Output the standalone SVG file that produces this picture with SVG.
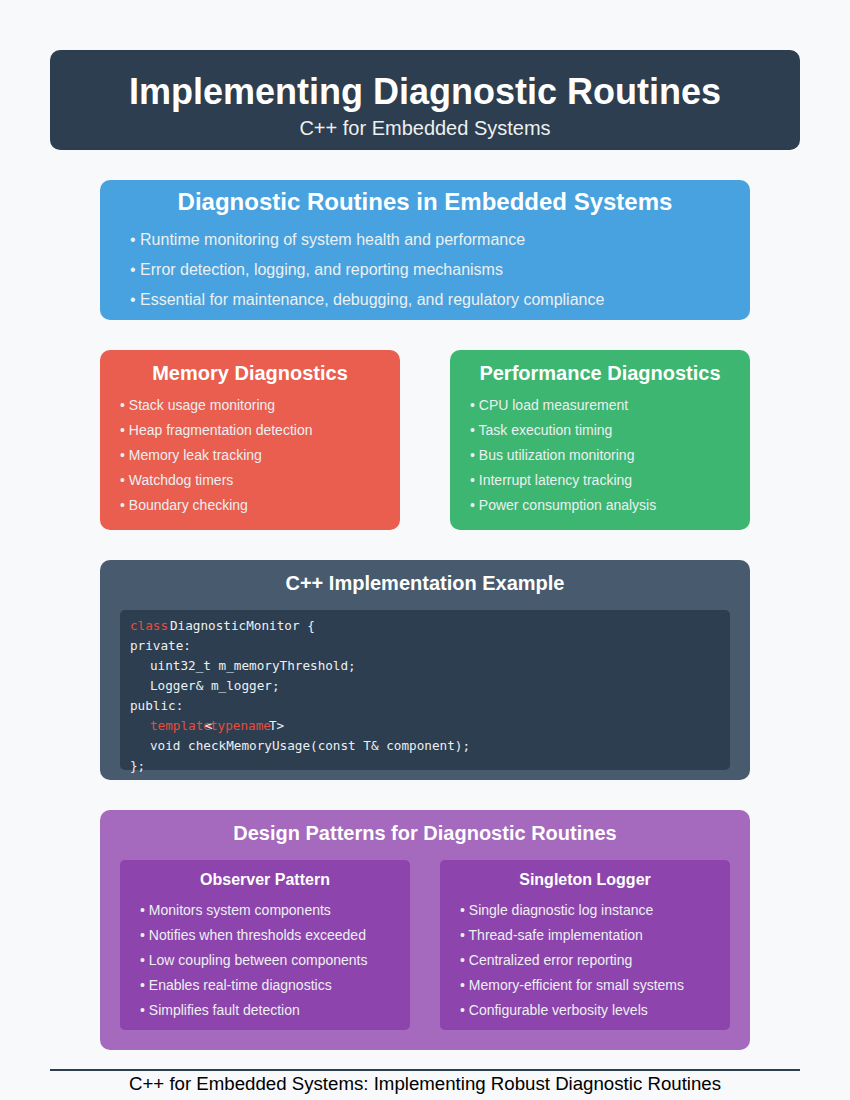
<svg xmlns="http://www.w3.org/2000/svg" width="850" height="1100" viewBox="0 0 850 1100">
<style>
text{font-family:"Liberation Sans",Arial,sans-serif;}
.t{fill:#ffffff;font-weight:bold;text-anchor:middle;}
.b{fill:#ecf0f1;font-size:14px;}
.bl{fill:#ecf0f1;font-size:16px;}
.code{font-family:"DejaVu Sans Mono","Liberation Mono",monospace;font-size:12.67px;fill:#ecf0f1;}
.kw{fill:#e74c3c;}
</style>
<rect x="0" y="0" width="850" height="1100" fill="#f8f9fa"/>
<g id="header">
<rect x="50" y="50" width="750" height="100" rx="10" fill="#2c3e50"/>
<text class="t" x="425" y="104" font-size="36">Implementing Diagnostic Routines</text>
<text x="425" y="135" font-size="20" fill="#ecf0f1" text-anchor="middle">C++ for Embedded Systems</text>
</g>
<g id="overview">
<rect x="100" y="180" width="650" height="140" rx="10" fill="#3498db" fill-opacity="0.9"/>
<text class="t" x="425" y="210" font-size="24">Diagnostic Routines in Embedded Systems</text>
<text class="bl" x="130" y="245">• Runtime monitoring of system health and performance</text>
<text class="bl" x="130" y="275">• Error detection, logging, and reporting mechanisms</text>
<text class="bl" x="130" y="305">• Essential for maintenance, debugging, and regulatory compliance</text>
</g>
<g id="memory">
<rect x="100" y="350" width="300" height="180" rx="10" fill="#e74c3c" fill-opacity="0.9"/>
<text class="t" x="250" y="380" font-size="20">Memory Diagnostics</text>
<text class="b" x="120" y="410">• Stack usage monitoring</text>
<text class="b" x="120" y="435">• Heap fragmentation detection</text>
<text class="b" x="120" y="460">• Memory leak tracking</text>
<text class="b" x="120" y="485">• Watchdog timers</text>
<text class="b" x="120" y="510">• Boundary checking</text>
</g>
<g id="performance">
<rect x="450" y="350" width="300" height="180" rx="10" fill="#27ae60" fill-opacity="0.9"/>
<text class="t" x="600" y="380" font-size="20">Performance Diagnostics</text>
<text class="b" x="470" y="410">• CPU load measurement</text>
<text class="b" x="470" y="435">• Task execution timing</text>
<text class="b" x="470" y="460">• Bus utilization monitoring</text>
<text class="b" x="470" y="485">• Interrupt latency tracking</text>
<text class="b" x="470" y="510">• Power consumption analysis</text>
</g>
<g id="code-example">
<rect x="100" y="560" width="650" height="220" rx="10" fill="#34495e" fill-opacity="0.9"/>
<text class="t" x="425" y="590" font-size="20">C++ Implementation Example</text>
<rect x="120" y="610" width="610" height="160" rx="5" fill="#2c3e50"/>
<text class="code kw" x="130" y="630">class</text>
<text class="code" x="170" y="630">DiagnosticMonitor {</text>
<text class="code" x="130" y="650">private:</text>
<text class="code" x="150" y="670">uint32_t m_memoryThreshold;</text>
<text class="code" x="150" y="690">Logger&amp; m_logger;</text>
<text class="code" x="130" y="710">public:</text>
<text class="code kw" x="150" y="730">template</text>
<text class="code" x="205" y="730">&lt;</text>
<text class="code kw" x="210" y="730">typename</text>
<text class="code" x="269" y="730">T&gt;</text>
<text class="code" x="150" y="750">void checkMemoryUsage(const T&amp; component);</text>
<text class="code" x="130" y="770">};</text>
</g>
<g id="patterns">
<rect x="100" y="810" width="650" height="240" rx="10" fill="#9b59b6" fill-opacity="0.9"/>
<text class="t" x="425" y="840" font-size="20">Design Patterns for Diagnostic Routines</text>
</g>
<g id="observer">
<rect x="120" y="860" width="290" height="170" rx="5" fill="#8e44ad"/>
<text class="t" x="265" y="885" font-size="16">Observer Pattern</text>
<text class="b" x="140" y="915">• Monitors system components</text>
<text class="b" x="140" y="940">• Notifies when thresholds exceeded</text>
<text class="b" x="140" y="965">• Low coupling between components</text>
<text class="b" x="140" y="990">• Enables real-time diagnostics</text>
<text class="b" x="140" y="1015">• Simplifies fault detection</text>
</g>
<g id="singleton">
<rect x="440" y="860" width="290" height="170" rx="5" fill="#8e44ad"/>
<text class="t" x="585" y="885" font-size="16">Singleton Logger</text>
<text class="b" x="460" y="915">• Single diagnostic log instance</text>
<text class="b" x="460" y="940">• Thread-safe implementation</text>
<text class="b" x="460" y="965">• Centralized error reporting</text>
<text class="b" x="460" y="990">• Memory-efficient for small systems</text>
<text class="b" x="460" y="1015">• Configurable verbosity levels</text>
</g>
<g id="connectors"></g>
<g id="footer">
<line x1="50" y1="1070" x2="800" y2="1070" stroke="#2c3e50" stroke-width="2"/>
<text x="425" y="1090" font-size="18.67" fill="#000000" text-anchor="middle">C++ for Embedded Systems: Implementing Robust Diagnostic Routines</text>
</g>
</svg>
